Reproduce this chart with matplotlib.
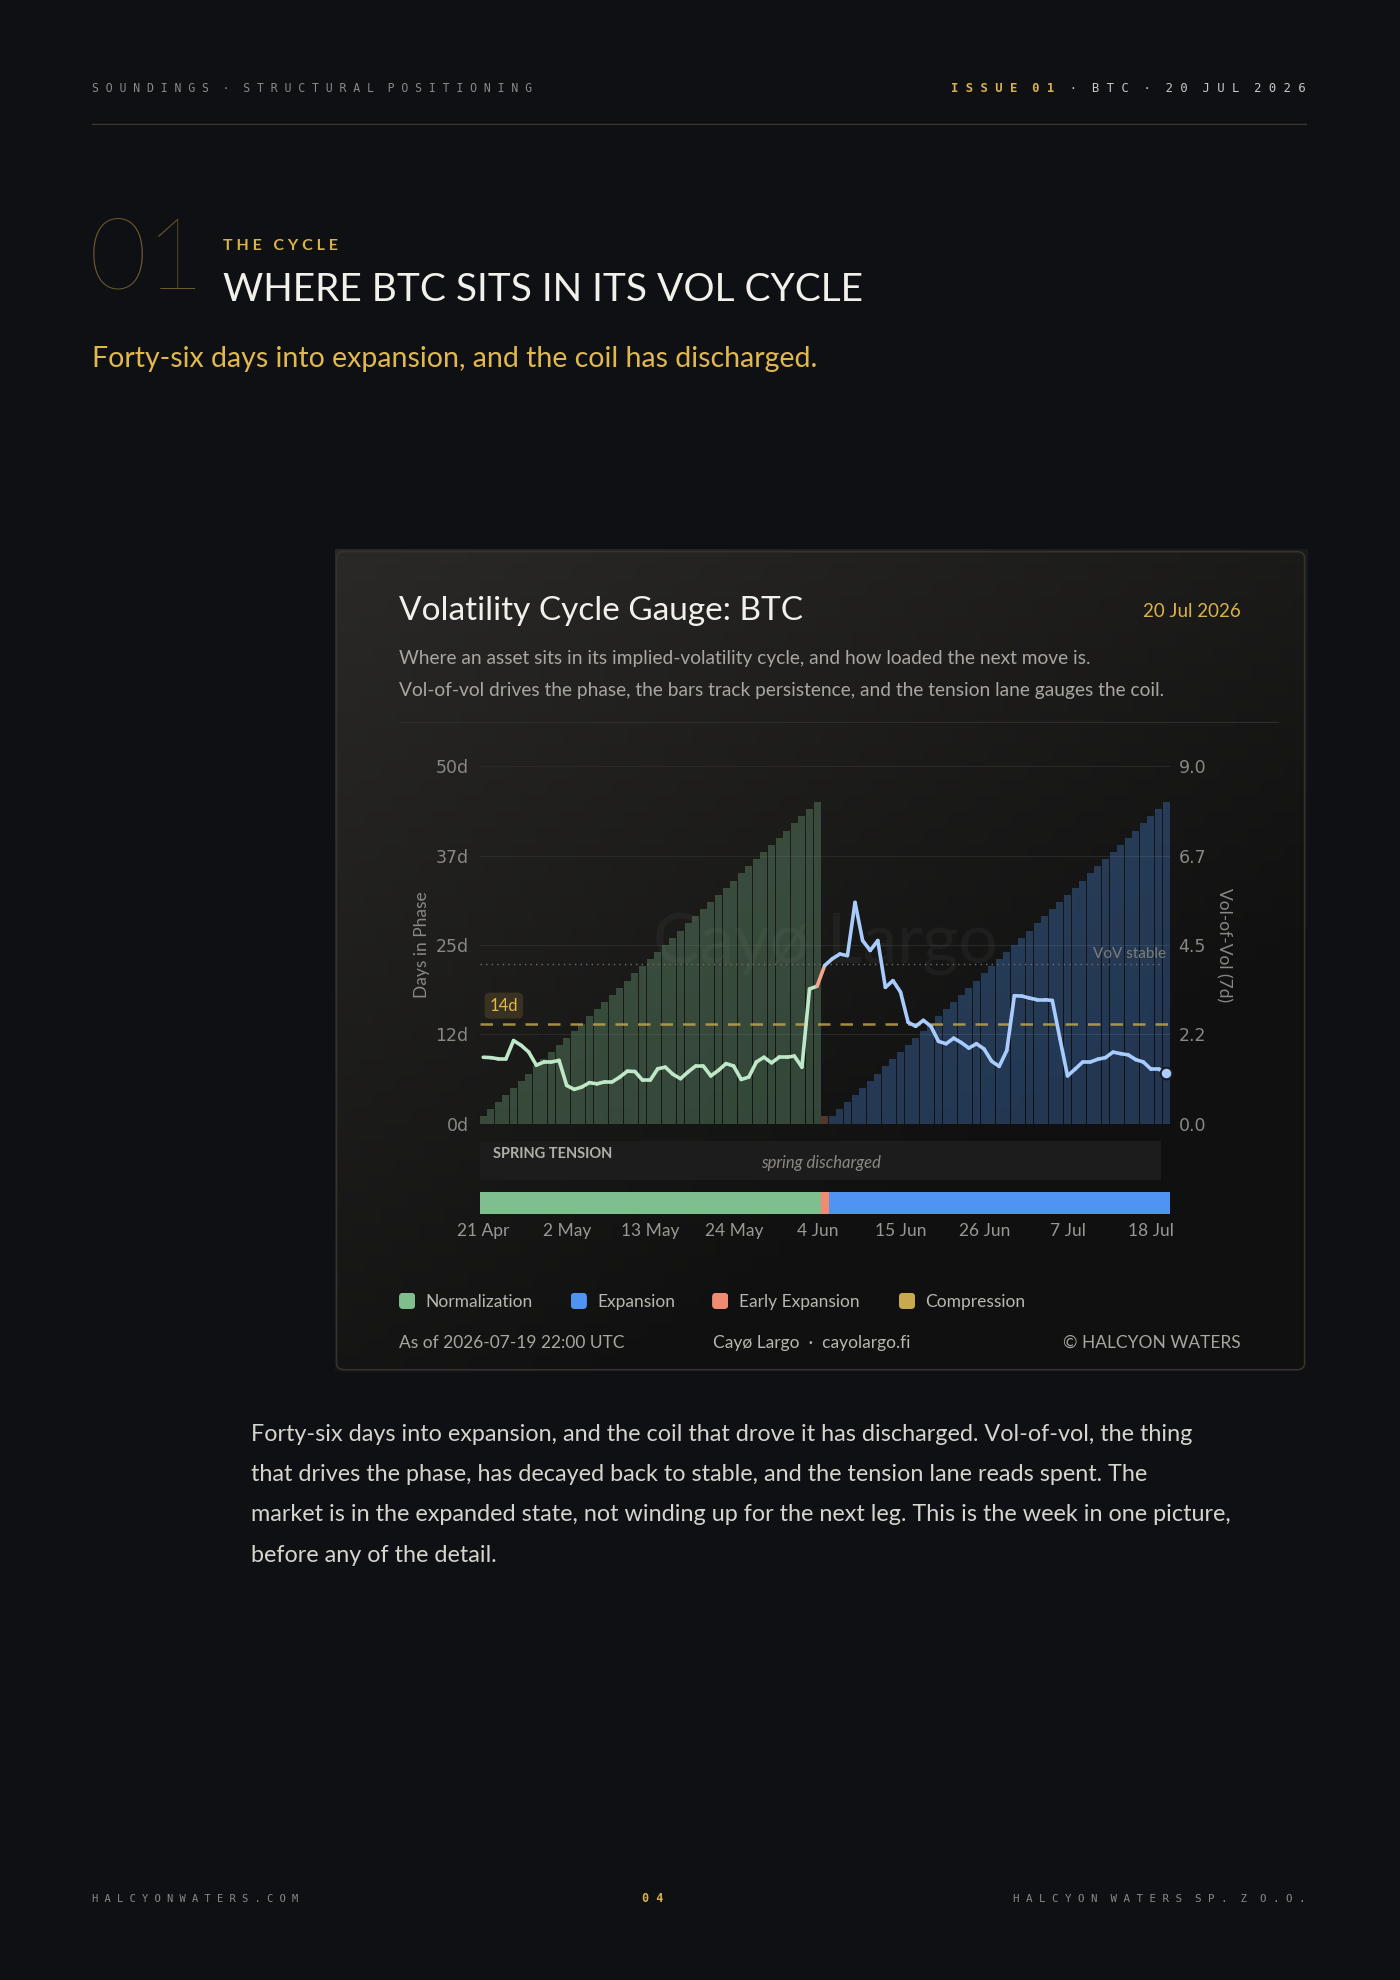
import numpy as np
import matplotlib
matplotlib.use("Agg")
import matplotlib.pyplot as plt
from matplotlib.patches import FancyBboxPatch, Rectangle
import datetime as dt

# ---------------- data ----------------
start_date = dt.date(2026, 4, 21)
phase_names = ["Normalization", "Expansion", "Early Expansion", "Compression"]
phase_colors = ["#7fbf8e", "#4f94f0", "#f08a70", "#c9a94f"]
line_colors = {"Normalization": "#bfe8c8", "Early Expansion": "#f4a590", "Expansion": "#a9ccff"}
phase_lengths = [45, 1, 45]          # Normalization, Early Expansion, Expansion
phase_seq = ["Normalization", "Early Expansion", "Expansion"]
vov_norm = [1.67, 1.66, 1.63, 1.63, 2.09, 1.97, 1.80, 1.47, 1.55, 1.55, 1.59, 0.96, 0.86, 0.92,
            1.03, 1.00, 1.05, 1.05, 1.17, 1.32, 1.31, 1.09, 1.09, 1.38, 1.42, 1.24, 1.13, 1.30,
            1.45, 1.45, 1.20, 1.34, 1.51, 1.45, 1.11, 1.17, 1.55, 1.67, 1.53, 1.67, 1.67, 1.70,
            1.42, 3.39, 3.46]
vov_early = [3.98]
vov_exp = [4.15, 4.27, 4.23, 5.57, 4.61, 4.36, 4.61, 3.43, 3.60, 3.31, 2.55, 2.45, 2.60, 2.45,
           2.07, 2.01, 2.15, 2.04, 1.90, 2.01, 1.88, 1.57, 1.44, 1.84, 3.22, 3.21, 3.16, 3.12,
           3.12, 3.10, 2.14, 1.20, 1.37, 1.55, 1.55, 1.62, 1.66, 1.80, 1.76, 1.73, 1.61, 1.55,
           1.37, 1.37, 1.28]
tension_threshold_days = 14
vov_stable = 4.02
left_ticks = [0, 12.5, 25, 37.5, 50]
left_labels = ["0d", "12d", "25d", "37d", "50d"]
right_ticks = [0.0, 2.25, 4.5, 6.75, 9.0]
right_labels = ["0.0", "2.2", "4.5", "6.7", "9.0"]
tick_step_days = 11

vov = np.array(vov_norm + vov_early + vov_exp)
n = len(vov)
days_in_phase = np.concatenate([np.arange(1, L + 1) for L in phase_lengths])
phase_of_day = sum([[p] * L for p, L in zip(phase_seq, phase_lengths)], [])
col_of = dict(zip(phase_names, phase_colors))

# ---------------- figure ----------------
W, H = 1400, 1980
S = 1400 / 1109.0
fig = plt.figure(figsize=(14, 19.8), dpi=100)
fig.patch.set_facecolor("#0e1013")
renderer = fig.canvas.get_renderer()

def P(x, y):
    return (x * S / W, 1 - y * S / H)

def T(x, y, s, **kw):
    fx, fy = P(x, y)
    kw.setdefault("family", ["Lato", "DejaVu Sans"])
    return fig.text(fx, fy, s, **kw)

def R(x0, y0, x1, y1):
    a, b = P(x0, y1)
    c, d = P(x1, y0)
    return [a, b, c - a, d - b]

mono = ["DejaVu Sans Mono"]
# header
T(73, 70, "S O U N D I N G S  ·  S T R U C T U R A L  P O S I T I O N I N G", fontsize=8.3, color="#8a8a86", va="center", family=mono)
rt = T(1034, 70, "  ·  B T C  ·  2 0  J U L  2 0 2 6", fontsize=8.8, color="#c8c8c4", va="center", ha="right", family=mono)
bb = rt.get_window_extent(renderer)
fig.text(bb.x0 / W, P(0, 70)[1], "I S S U E  0 1", fontsize=8.8, color="#d9b24a", va="center", ha="right",
         family=mono, fontweight="bold")
ax_line = fig.add_axes(R(73, 97, 1035, 99))
ax_line.axis("off")
ax_line.axhline(0.5, color="#3e3a2c", lw=1)
ax_line.set_ylim(0, 1)

T(70, 207, "01", fontsize=72, color="#6b5a2e", va="center", family=["Lato", "DejaVu Sans"], fontweight="light")
T(177, 195, "T H E   C Y C L E", fontsize=11.5, color="#d9b24a", va="center", fontweight="bold")
T(177, 230, "WHERE BTC SITS IN ITS VOL CYCLE", fontsize=28, color="#f2f0ea", va="center")
T(73, 284, "Forty-six days into expansion, and the coil has discharged.", fontsize=20.5, color="#e0b84e", va="center")

# card
card = fig.add_axes(R(265, 435, 1035, 1087))
card.set_xlim(0, 1); card.set_ylim(0, 1); card.axis("off")
c0 = np.array([0x2a, 0x29, 0x27]) / 255; c1 = np.array([0x10, 0x10, 0x10]) / 255
yy, xx = np.mgrid[0:50, 0:256]
t = np.clip((xx / 255 * 0.6 + yy / 49 * 0.8), 0, 1)[..., None]
img = c0 * (1 - t) + c1 * t
card.imshow(img, extent=[0, 1, 0, 1], aspect="auto", zorder=0, origin="upper")
card.add_patch(FancyBboxPatch((0.002, 0.003), 0.996, 0.994, boxstyle="round,pad=0,rounding_size=0.008",
                              fill=False, ec="#34332f", lw=1.2, zorder=2))

T(316, 484, "Volatility Cycle Gauge: BTC", fontsize=24, color="#f2f0ea", va="center")
T(983, 484, "20 Jul 2026", fontsize=13.5, color="#d9b24a", va="center", ha="right")
T(316, 522, "Where an asset sits in its implied-volatility cycle, and how loaded the next move is.", fontsize=13.8, color="#a8a6a0", va="center")
T(316, 547, "Vol-of-vol drives the phase, the bars track persistence, and the tension lane gauges the coil.", fontsize=13.8, color="#a8a6a0", va="center")
sep = fig.add_axes(R(316, 571, 1013, 573)); sep.axis("off"); sep.axhline(0.5, color="#2e2d2b", lw=0.8); sep.set_ylim(0, 1)

# main plot
ax = fig.add_axes(R(380, 607, 927, 890))
ax.set_facecolor("none")
x = np.arange(n)
bar_cols = [col_of[p] for p in phase_of_day]
ax.bar(x, days_in_phase, width=0.92, color=bar_cols, alpha=0.3, align="edge", zorder=1)
ax.set_xlim(0, n)
ax.set_ylim(0, 50)
ax.set_yticks(left_ticks)
ax.set_yticklabels(left_labels)
for yv in left_ticks:
    ax.axhline(yv, color="#2a2a28", lw=0.7, zorder=0)
ax.axhline(tension_threshold_days, color="#c9a94f", lw=1.8, ls=(0, (5, 4)), alpha=0.8, zorder=3)
ax.text(1.3, 16.5, "14d", color="#e0b84e", fontsize=12, va="center", family=["Lato", "DejaVu Sans"],
        bbox=dict(boxstyle="round,pad=0.3", fc="#3a3220", ec="none"), zorder=5)
ax.tick_params(axis="y", colors="#8a8884", labelsize=12.5, length=0, pad=8)
ax.tick_params(axis="x", length=0, labelbottom=False)
for s in ax.spines.values():
    s.set_visible(False)
ax.set_ylabel("Days in Phase", color="#8a8884", fontsize=12.5, family=["Lato", "DejaVu Sans"])
ax.text(0.5, 0.5, "Cayø Largo", transform=ax.transAxes, fontsize=50, color="#ffffff", alpha=0.04,
        ha="center", va="center", family=["Lato", "DejaVu Sans"], zorder=0)

ax2 = ax.twinx()
ax2.set_ylim(0, 9)
ax2.set_yticks(right_ticks)
ax2.set_yticklabels(right_labels)
ax2.tick_params(axis="y", colors="#8a8884", labelsize=12.5, length=0, pad=6)
for s in ax2.spines.values():
    s.set_visible(False)
ax2.set_ylabel("Vol-of-Vol (7d)", color="#8a8884", fontsize=12.5, rotation=270, labelpad=18,
               family=["Lato", "DejaVu Sans"])
ax2.axhline(vov_stable, color="#6e6e6c", lw=1, ls=(0, (1, 3)), xmax=0.985)
ax2.text(n - 0.6, vov_stable + 0.08, "VoV stable", color="#7d7c78", fontsize=11, ha="right", va="bottom",
         family=["Lato", "DejaVu Sans"])
xc = x + 0.46
for i in range(n - 1):
    ax2.plot(xc[i:i + 2], vov[i:i + 2], color=line_colors[phase_of_day[i + 1]], lw=2.6,
             solid_capstyle="round", zorder=4)
ax2.scatter([xc[-1]], [vov[-1]], s=70, color="#a9ccff", ec="#1a1a1a", lw=1.5, zorder=6, clip_on=False)

# tension lane
lane = fig.add_axes(R(380, 904, 920, 935))
lane.set_xlim(0, 1); lane.set_ylim(0, 1); lane.axis("off")
lane.add_patch(Rectangle((0, 0), 1, 1, color="#1c1c1c"))
lane.text(0.02, 0.68, "SPRING TENSION", color="#b0aea8", fontsize=10.5, fontweight="bold", va="center",
          family=["Lato", "DejaVu Sans"])
lane.text(0.5, 0.45, "spring discharged", color="#8a8884", fontsize=12, style="italic", ha="center", va="center",
          family=["Lato", "DejaVu Sans"])

# phase strip
strip = fig.add_axes(R(380, 944, 927, 962))
strip.bar(x, np.ones(n), width=1.0, color=bar_cols, align="edge")
strip.set_xlim(0, n); strip.set_ylim(0, 1); strip.axis("off")
tick_pos = np.arange(0, n, tick_step_days)
tick_lbl = [f"{(start_date + dt.timedelta(days=int(d))).day} {(start_date + dt.timedelta(days=int(d))).strftime('%b')}" for d in tick_pos]
fx0, _ = P(380, 0)
fx1, _ = P(927, 0)
for tp, tl in zip(tick_pos, tick_lbl):
    fig.text(fx0 + (fx1 - fx0) * (tp + 0.5) / n, P(0, 975)[1], tl, color="#9a9894", fontsize=12.5,
             ha="center", va="center", family=["Lato", "DejaVu Sans"])

# legend
leg_items = [("Normalization", 316), ("Expansion", 452), ("Early Expansion", 564), ("Compression", 712)]
for name, lx in leg_items:
    sq = fig.add_axes(R(lx, 1024, lx + 13, 1037))
    sq.axis("off"); sq.set_xlim(0, 1); sq.set_ylim(0, 1)
    sq.add_patch(FancyBboxPatch((0.05, 0.05), 0.9, 0.9, boxstyle="round,pad=0,rounding_size=0.2",
                                color=col_of[name]))
    T(lx + 21, 1031, name, fontsize=12.5, color="#b8b6b0", va="center")

T(316, 1064, "As of 2026-07-19 22:00 UTC", fontsize=12.5, color="#a8a6a0", va="center")
T(565, 1064, "Cayø Largo  ·  cayolargo.fi", fontsize=12.5, color="#b8b6b0", va="center")
T(983, 1064, "© HALCYON WATERS", fontsize=12.5, color="#a8a6a0", va="center", ha="right")

body = ["Forty-six days into expansion, and the coil that drove it has discharged. Vol-of-vol, the thing",
        "that drives the phase, has decayed back to stable, and the tension lane reads spent. The",
        "market is in the expanded state, not winding up for the next leg. This is the week in one picture,",
        "before any of the detail."]
for i, line in enumerate(body):
    T(199, 1136 + 32 * i, line, fontsize=16.8, color="#d6d4ce", va="center")

T(73, 1504, "H A L C Y O N W A T E R S . C O M", fontsize=7.5, color="#8a8a86", va="center", family=mono)
T(517, 1504, "0 4", fontsize=8.5, color="#d9b24a", va="center", ha="center", family=mono, fontweight="bold")
T(1034, 1504, "H A L C Y O N  W A T E R S  S P .  Z  O . O .", fontsize=7.8, color="#8a8a86", va="center", ha="right", family=mono)

fig.savefig("out.png", dpi=100, facecolor=fig.get_facecolor())
